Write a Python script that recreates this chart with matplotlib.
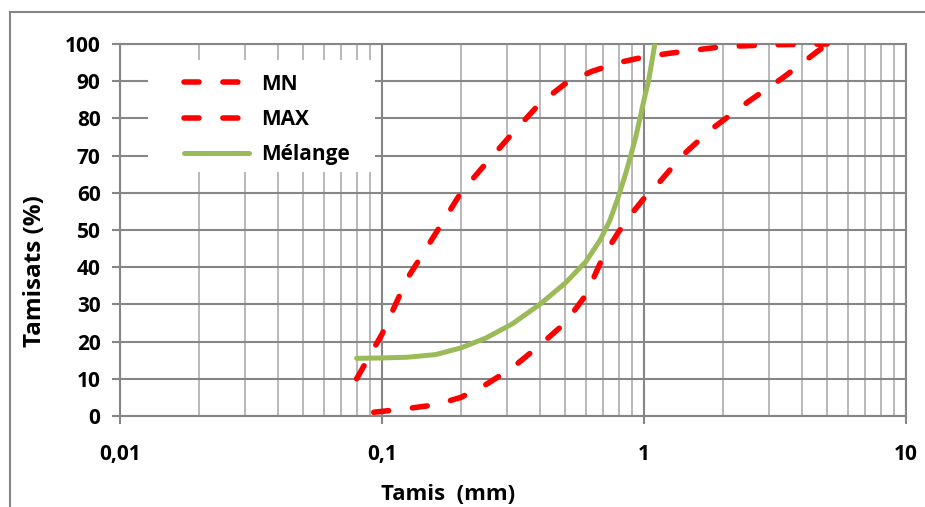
import matplotlib.pyplot as plt
from matplotlib.patches import Rectangle
from matplotlib.ticker import FixedLocator, FixedFormatter, NullFormatter

# fuseau limits and blend curve
mn_x = [0.08, 0.1, 0.125, 0.16, 0.2, 0.25, 0.315, 0.4, 0.5, 0.63, 0.8, 1.0, 1.25, 2.0, 3.15, 5.0]
mn_y = [10, 22, 37, 49, 60, 68, 76, 84, 89.3, 92.6, 95, 96.5, 97.5, 99.3, 99.8, 100]

max_x = [0.093, 0.125, 0.16, 0.2, 0.25, 0.315, 0.4, 0.5, 0.6, 0.7, 0.8, 0.9, 1.0, 1.15, 1.4, 1.8, 2.5, 3.4, 5.0]
max_y = [1, 2, 3, 5, 8.5, 13, 19, 25, 32.5, 43, 49.5, 54.5, 58.5, 63, 70, 77, 84.5, 91, 100]

mel_x = [0.08, 0.1, 0.125, 0.16, 0.2, 0.25, 0.315, 0.4, 0.5, 0.6, 0.68, 0.74, 0.79, 0.85, 0.89, 0.93, 0.965, 1.0, 1.04, 1.07, 1.1]
mel_y = [15.5, 15.6, 15.8, 16.5, 18.3, 21, 24.8, 30, 35.7, 41.5, 47.3, 52.5, 58, 65, 70, 75, 80, 85, 90, 95, 100]

x_ticks = [0.01, 0.1, 1, 10]
x_labels = ["0,01", "0,1", "1", "10"]
y_ticks = list(range(0, 101, 10))

plt.rcParams['font.family'] = ['Open Sans', 'DejaVu Sans']
plt.rcParams['font.weight'] = 'bold'

fig = plt.figure(figsize=(9.25, 5.07), dpi=100)
ax = fig.add_axes([120 / 925, 91 / 507, 786 / 925, 372 / 507])

red_kw = dict(color='#ff0000', lw=4.0, dash_capstyle='round', solid_capstyle='round', zorder=3)
ax.plot(mn_x, mn_y, dashes=(2.7, 4.3), label='MN', **red_kw)
ax.plot(max_x, max_y, dashes=(2.7, 4.3), label='MAX', **red_kw)
ax.plot(mel_x, mel_y, color='#9bbb59', lw=3.6, solid_capstyle='round', label='Mélange', zorder=3)

ax.set_xscale('log')
ax.set_xlim(0.01, 10)
ax.set_ylim(0, 100)
ax.xaxis.set_major_locator(FixedLocator(x_ticks))
ax.xaxis.set_major_formatter(FixedFormatter(x_labels))
ax.xaxis.set_minor_formatter(NullFormatter())
ax.set_yticks(y_ticks)

ax.grid(True, which='major', axis='both', color='#868686', lw=1.5)
ax.grid(True, which='minor', axis='x', color='#b3b3b3', lw=1.3)
ax.set_axisbelow(True)
for s in ax.spines.values():
    s.set_color('#868686')
    s.set_linewidth(1.5)

ax.tick_params(axis='both', which='major', labelsize=15, color='#868686', width=1.5, length=6)
ax.tick_params(axis='y', pad=8)
ax.tick_params(axis='x', pad=14)
ax.tick_params(axis='x', which='minor', length=0)

ax.set_xlabel('Tamis  (mm)', fontsize=16, fontweight='bold')
ax.xaxis.set_label_coords(0.417, -0.212)
ax.xaxis.label.set_va('center')
ax.set_ylabel('Tamisats (%)', fontsize=17.5, fontweight='bold')
ax.yaxis.set_label_coords(-0.108, 0.39)
ax.yaxis.label.set_va('center')

# white patch behind the legend, hiding the grid there
ax.add_patch(Rectangle((0.0356, 0.656), 0.289, 0.301, transform=ax.transAxes,
                       facecolor='white', edgecolor='none', zorder=1))
leg = ax.legend(loc='upper left', bbox_to_anchor=(0.0687, 0.948), fontsize=15,
                frameon=False, handlelength=3.1, labelspacing=0.68, handletextpad=0.6,
                borderpad=0)

fig.patches.append(Rectangle((10 / 925, -0.1), 1.2, 0.1 + (507 - 12) / 507,
                             transform=fig.transFigure, fill=False,
                             edgecolor='#868686', lw=1.5))

fig.savefig('out.png', dpi=100)
